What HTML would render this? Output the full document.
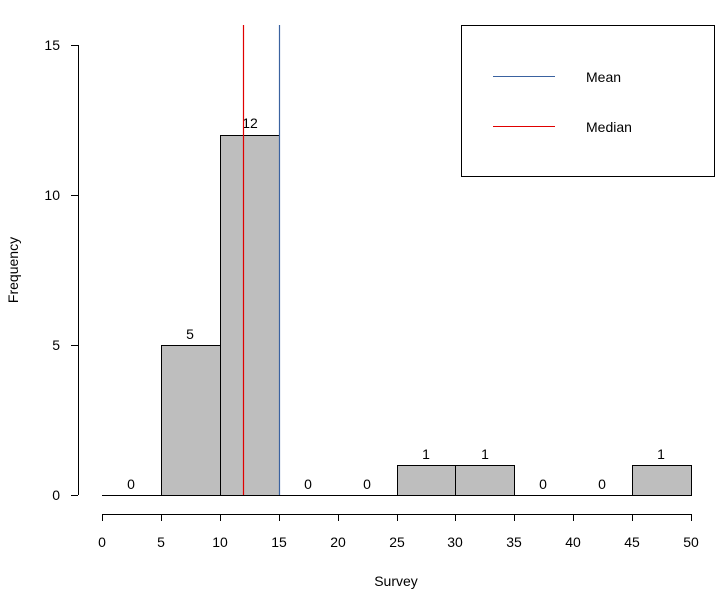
<!DOCTYPE html>
<html><head><meta charset="utf-8"><style>body{margin:0;background:#fff}svg{display:block}text{font-family:"Liberation Sans",Arial,sans-serif;font-size:14px;fill:#000}</style></head>
<body>
<svg width="726" height="595" viewBox="0 0 726 595" xmlns="http://www.w3.org/2000/svg">
<g stroke="#000" stroke-width="1" fill="#bebebe">
<line x1="102" y1="495.5" x2="161" y2="495.5"/>
<rect x="161.5" y="345.5" width="59" height="150"/>
<rect x="220.5" y="135.5" width="59" height="360"/>
<line x1="279" y1="495.5" x2="397" y2="495.5"/>
<rect x="397.5" y="465.5" width="58" height="30"/>
<rect x="455.5" y="465.5" width="59" height="30"/>
<line x1="514" y1="495.5" x2="632" y2="495.5"/>
<rect x="632.5" y="465.5" width="59" height="30"/>
</g>
<g text-anchor="middle">
<text x="131" y="489">0</text><text x="190" y="339">5</text><text x="250" y="128">12</text>
<text x="308" y="489">0</text><text x="367" y="489">0</text><text x="426" y="459">1</text>
<text x="485" y="459">1</text><text x="543" y="489">0</text><text x="602" y="489">0</text><text x="661" y="459">1</text>
</g>
<line x1="279.5" y1="25" x2="279.5" y2="495" stroke="#3a62a0" stroke-width="1.2"/>
<line x1="243.5" y1="25" x2="243.5" y2="495" stroke="#e00000" stroke-width="1.2"/>
<g stroke="#000">
<line x1="78.5" y1="45" x2="78.5" y2="495"/>
<line x1="71" y1="45.5" x2="78" y2="45.5"/><line x1="71" y1="195.5" x2="78" y2="195.5"/>
<line x1="71" y1="345.5" x2="78" y2="345.5"/><line x1="71" y1="495.5" x2="78" y2="495.5"/>
<line x1="102" y1="514.5" x2="691" y2="514.5"/>
<line x1="102.5" y1="514" x2="102.5" y2="521"/><line x1="161.5" y1="514" x2="161.5" y2="521"/>
<line x1="220.5" y1="514" x2="220.5" y2="521"/><line x1="279.5" y1="514" x2="279.5" y2="521"/>
<line x1="338.5" y1="514" x2="338.5" y2="521"/><line x1="397.5" y1="514" x2="397.5" y2="521"/>
<line x1="455.5" y1="514" x2="455.5" y2="521"/><line x1="514.5" y1="514" x2="514.5" y2="521"/>
<line x1="573.5" y1="514" x2="573.5" y2="521"/><line x1="632.5" y1="514" x2="632.5" y2="521"/>
<line x1="691.5" y1="514" x2="691.5" y2="521"/>
</g>
<g text-anchor="end"><text x="60" y="50">15</text><text x="60" y="200">10</text><text x="60" y="350">5</text><text x="60" y="500">0</text></g>
<g text-anchor="middle">
<text x="102" y="547">0</text><text x="161" y="547">5</text><text x="220" y="547">10</text><text x="279" y="547">15</text>
<text x="338" y="547">20</text><text x="397" y="547">25</text><text x="455" y="547">30</text><text x="514" y="547">35</text>
<text x="573" y="547">40</text><text x="632" y="547">45</text><text x="691" y="547">50</text>
<text x="396" y="586">Survey</text>
<text transform="translate(18,270) rotate(-90)">Frequency</text>
</g>
<rect x="461.5" y="25.5" width="253" height="151" fill="#fff" stroke="#000"/>
<line x1="493" y1="76.5" x2="555" y2="76.5" stroke="#3a62a0"/>
<line x1="493" y1="126.5" x2="555" y2="126.5" stroke="#e00000"/>
<text x="586" y="82">Mean</text><text x="586" y="132">Median</text>
</svg>
</body></html>
